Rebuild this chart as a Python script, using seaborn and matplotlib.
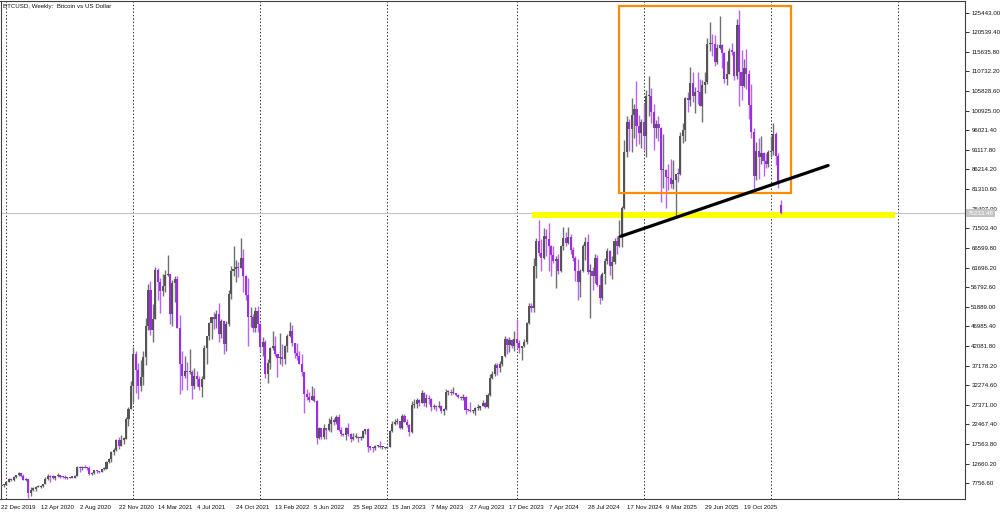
import numpy as np
import pandas as pd
import seaborn as sns
import matplotlib.pyplot as plt
from matplotlib.patches import Rectangle

# BTCUSD weekly candles, thousands of USD, first bar = week of 22 Dec 2019
opens = [
    7.15, 7.32, 7.35, 8.18, 8.92, 8.60, 9.33, 9.80, 10.37, 9.68,
    8.55, 8.90, 5.37, 6.19, 6.25, 6.78, 6.90, 7.14, 7.55, 8.90,
    9.55, 9.38, 9.18, 9.65, 9.65, 9.45, 9.35, 9.00, 9.08, 9.25,
    9.16, 9.62, 11.80, 11.60, 11.85, 11.65, 11.50, 10.05, 10.45, 11.08,
    10.75, 10.55, 11.30, 11.35, 13.10, 13.80, 15.50, 16.05, 18.68, 17.15,
    18.70, 18.80, 23.80, 26.40, 32.20, 40.20, 36.00, 32.10, 34.30, 39.25,
    47.20, 56.00, 46.20, 48.90, 61.20, 58.10, 55.90, 57.10, 59.80, 60.00,
    50.00, 57.80, 58.90, 46.70, 37.50, 34.60, 35.80, 35.50, 35.50, 32.20,
    34.60, 33.80, 31.80, 33.80, 41.50, 44.60, 47.80, 49.30, 48.90, 50.00,
    45.20, 48.30, 42.70, 47.70, 55.00, 60.90, 61.30, 61.80, 61.50, 64.20,
    59.70, 54.80, 49.40, 49.40, 46.70, 50.80, 47.70, 41.90, 43.10, 35.10,
    37.90, 41.60, 42.20, 40.10, 39.10, 39.40, 38.80, 42.20, 44.50, 45.80,
    42.80, 40.40, 39.70, 37.70, 35.50, 30.10, 29.40, 28.60, 29.70, 28.40,
    19.00, 21.50, 19.30, 21.60, 21.20, 22.60, 23.60, 23.20, 24.40, 21.10,
    20.00, 19.80, 21.60, 20.10, 18.90, 19.30, 19.40, 19.10, 19.20, 20.80,
    21.30, 16.80, 16.70, 16.50, 17.00, 17.10, 16.80, 16.80, 16.50, 16.90,
    20.90, 22.70, 23.00, 23.30, 21.60, 24.60, 23.20, 22.40, 20.60, 27.40,
    27.50, 28.50, 27.90, 30.30, 27.80, 29.20, 28.90, 26.80, 26.90, 26.80,
    27.10, 25.80, 26.30, 30.60, 30.60, 30.30, 30.30, 29.90, 29.30, 29.00,
    29.40, 26.10, 26.00, 25.80, 25.90, 26.60, 26.60, 27.00, 27.90, 26.80,
    29.90, 34.10, 35.00, 37.30, 36.60, 37.70, 39.50, 43.80, 42.30, 43.70,
    42.10, 43.90, 42.80, 41.60, 42.10, 43.00, 47.80, 52.10, 51.50, 62.00,
    68.30, 65.30, 64.00, 69.70, 68.90, 67.20, 64.90, 63.40, 63.90, 60.80,
    67.00, 69.20, 67.80, 69.30, 66.00, 64.20, 60.90, 58.20, 60.80, 67.10,
    68.00, 60.70, 60.90, 59.50, 64.20, 57.30, 54.00, 60.00, 63.30, 65.80,
    62.10, 63.20, 68.40, 67.00, 69.50, 76.50, 90.50, 98.00, 96.40, 99.80,
    101.40, 97.20, 95.30, 98.20, 94.50, 104.50, 104.70, 100.60, 96.50, 97.50,
    96.60, 86.10, 86.10, 84.30, 84.00, 82.50, 83.50, 85.20, 85.10, 94.60,
    96.00, 104.00, 103.50, 107.90, 104.60, 105.60, 105.50, 102.20, 107.30, 108.20,
    117.50, 117.80, 117.60, 113.00, 116.50, 117.40, 115.40, 108.80, 110.20, 115.90,
    115.70, 109.70, 122.30, 110.60, 107.00, 111.50, 110.00, 102.30, 95.50, 84.70,
    90.80, 89.30, 90.30, 88.30, 87.70, 90.50, 90.80, 95.00, 89.50, 77.40,
]
highs = [
    7.70, 7.65, 8.45, 9.18, 8.98, 9.57, 9.85, 10.50, 10.40, 10.00,
    9.18, 8.90, 6.90, 6.95, 7.05, 7.45, 7.30, 7.70, 9.45, 10.05,
    9.95, 9.90, 9.70, 10.40, 9.95, 9.60, 9.80, 9.30, 9.45, 9.32,
    9.75, 12.00, 12.10, 12.10, 12.45, 11.75, 12.10, 10.60, 11.15, 11.10,
    10.95, 11.45, 11.75, 13.25, 14.10, 15.95, 16.50, 18.80, 19.45, 19.90,
    19.40, 24.30, 26.80, 33.30, 41.90, 40.80, 37.85, 38.50, 40.95, 49.00,
    57.50, 58.30, 52.60, 61.80, 61.60, 59.00, 60.10, 61.20, 64.80, 60.00,
    58.50, 59.50, 59.50, 49.80, 40.80, 39.50, 38.00, 41.30, 36.00, 36.60,
    35.90, 34.60, 34.50, 42.30, 44.70, 48.10, 49.40, 50.50, 51.00, 52.90,
    48.80, 48.30, 48.40, 56.00, 62.00, 67.00, 63.70, 63.20, 69.00, 66.30,
    59.90, 59.00, 51.90, 50.00, 51.90, 52.00, 47.90, 44.40, 43.50, 38.90,
    41.90, 45.80, 44.70, 40.20, 45.40, 42.50, 42.30, 45.10, 48.20, 47.40,
    42.90, 42.90, 40.80, 40.00, 35.60, 31.30, 30.60, 32.20, 31.70, 28.50,
    21.80, 21.70, 22.50, 21.60, 24.20, 24.60, 24.20, 24.90, 25.20, 21.80,
    20.40, 21.80, 22.80, 20.40, 20.40, 20.40, 19.60, 19.70, 21.00, 21.40,
    21.50, 17.20, 16.80, 17.40, 17.40, 18.40, 17.00, 16.90, 17.00, 21.20,
    23.30, 23.80, 24.20, 23.40, 25.20, 25.10, 23.90, 22.60, 28.40, 28.80,
    29.10, 28.90, 31.00, 30.50, 30.00, 29.80, 29.10, 27.60, 27.30, 28.40,
    27.40, 26.50, 31.40, 31.00, 31.40, 31.80, 30.40, 30.00, 29.70, 30.20,
    29.70, 26.30, 28.10, 26.10, 26.80, 27.50, 27.20, 28.60, 28.00, 30.30,
    35.20, 35.90, 37.90, 37.90, 38.40, 39.70, 44.50, 44.00, 44.30, 43.90,
    45.90, 48.90, 43.60, 42.20, 43.80, 48.20, 52.80, 52.90, 64.00, 69.00,
    73.70, 68.90, 71.60, 71.40, 72.80, 67.30, 67.20, 64.70, 65.00, 67.40,
    71.90, 70.60, 71.90, 70.20, 66.90, 64.50, 63.80, 61.40, 67.50, 69.40,
    70.00, 62.70, 61.80, 65.00, 64.90, 59.80, 60.60, 64.10, 66.50, 66.00,
    64.50, 69.00, 69.50, 73.60, 77.20, 93.50, 99.60, 98.90, 104.00, 102.50,
    108.30, 99.90, 98.90, 102.70, 106.00, 109.60, 106.50, 102.50, 98.50, 99.50,
    96.80, 95.00, 86.40, 87.50, 88.80, 88.50, 84.70, 86.50, 95.70, 97.80,
    104.30, 105.70, 111.90, 110.50, 106.80, 110.50, 108.90, 108.50, 110.50, 119.00,
    123.20, 120.20, 119.80, 117.70, 124.50, 117.60, 115.60, 113.40, 116.70, 117.90,
    115.80, 123.90, 126.20, 116.00, 113.90, 116.40, 111.20, 107.50, 96.70, 93.00,
    94.10, 94.50, 90.50, 90.30, 91.00, 94.70, 97.90, 95.60, 90.40, 78.70,
]
lows = [
    7.05, 6.87, 7.35, 8.05, 8.27, 8.30, 9.10, 9.70, 9.30, 8.47,
    8.40, 4.20, 4.55, 5.75, 5.88, 6.75, 6.55, 6.80, 7.55, 8.65,
    8.10, 8.85, 8.65, 9.30, 9.10, 9.20, 8.90, 8.95, 9.05, 9.05,
    9.13, 9.62, 10.70, 11.20, 11.55, 11.10, 9.90, 9.85, 10.20, 10.35,
    10.40, 10.50, 11.20, 11.35, 12.95, 13.20, 14.85, 15.80, 16.30, 17.10,
    17.60, 18.80, 22.00, 26.40, 28.20, 30.40, 28.80, 30.85, 32.30, 37.40,
    46.20, 44.90, 43.00, 48.90, 53.50, 50.30, 54.50, 55.50, 59.50, 47.50,
    47.00, 53.00, 46.60, 30.00, 31.20, 34.10, 31.00, 35.00, 28.80, 31.30,
    32.10, 31.10, 29.30, 33.80, 37.50, 43.50, 43.90, 46.40, 46.60, 43.00,
    44.20, 40.00, 40.80, 47.20, 53.90, 59.60, 58.00, 59.40, 61.50, 55.60,
    53.50, 42.00, 46.80, 45.50, 45.60, 45.70, 40.60, 39.60, 34.00, 32.90,
    36.30, 41.10, 39.50, 34.30, 37.50, 37.20, 37.60, 40.50, 44.30, 42.10,
    39.20, 38.60, 37.60, 34.70, 25.40, 28.70, 28.00, 28.60, 28.20, 17.60,
    18.80, 18.80, 18.80, 18.90, 20.80, 20.70, 22.40, 22.70, 20.80, 19.60,
    19.50, 18.60, 19.60, 18.20, 18.50, 19.00, 18.20, 18.70, 19.20, 20.10,
    15.60, 16.20, 15.50, 16.00, 16.80, 16.60, 16.30, 16.40, 16.50, 16.90,
    20.50, 22.30, 22.60, 21.40, 21.40, 23.10, 21.90, 19.60, 20.40, 26.60,
    26.50, 27.20, 27.90, 27.20, 26.90, 27.70, 25.80, 26.30, 25.90, 26.60,
    25.40, 24.80, 26.20, 29.90, 29.80, 30.00, 29.50, 29.00, 28.60, 28.70,
    25.20, 25.80, 25.70, 25.40, 24.90, 26.20, 26.00, 27.00, 26.60, 26.60,
    29.70, 33.90, 34.60, 34.80, 35.60, 37.00, 39.40, 40.20, 40.60, 41.50,
    40.80, 41.50, 40.30, 38.50, 41.80, 42.60, 47.60, 50.60, 50.60, 59.00,
    64.50, 60.80, 63.80, 64.50, 60.80, 59.60, 62.80, 56.50, 60.20, 60.60,
    66.10, 67.10, 67.50, 65.10, 63.40, 58.40, 53.50, 54.30, 60.70, 63.50,
    60.00, 49.00, 56.10, 57.90, 57.20, 52.50, 53.70, 57.50, 62.60, 59.80,
    58.90, 62.70, 65.10, 66.80, 66.80, 76.30, 89.40, 90.80, 90.50, 94.20,
    92.20, 92.50, 91.50, 91.20, 89.30, 99.50, 97.80, 91.20, 94.10, 93.40,
    78.20, 81.50, 76.60, 81.20, 81.60, 81.30, 74.60, 83.10, 84.90, 92.90,
    93.40, 100.70, 102.10, 103.10, 100.40, 102.70, 102.00, 98.20, 105.30, 107.50,
    115.80, 114.70, 112.00, 112.70, 116.40, 111.70, 107.80, 107.30, 110.00, 114.80,
    108.60, 108.80, 102.00, 103.50, 106.80, 106.30, 98.90, 94.00, 80.50, 83.70,
    83.90, 87.60, 84.50, 86.60, 86.80, 89.30, 89.80, 87.30, 81.50, 75.10,
]
closes = [
    7.32, 7.35, 8.18, 8.92, 8.60, 9.33, 9.80, 10.37, 9.68, 8.55,
    8.90, 5.37, 6.19, 6.25, 6.78, 6.90, 7.14, 7.55, 8.90, 9.55,
    9.38, 9.18, 9.65, 9.65, 9.45, 9.35, 9.00, 9.08, 9.25, 9.16,
    9.62, 11.80, 11.60, 11.85, 11.65, 11.50, 10.05, 10.45, 11.08, 10.75,
    10.55, 11.30, 11.35, 13.10, 13.80, 15.50, 16.05, 18.68, 17.15, 18.70,
    18.80, 23.80, 26.40, 32.20, 40.20, 36.00, 32.10, 34.30, 39.25, 47.20,
    56.00, 46.20, 48.90, 61.20, 58.10, 55.90, 57.10, 59.80, 60.00, 50.00,
    57.80, 58.90, 46.70, 37.50, 34.60, 35.80, 35.50, 35.50, 32.20, 34.60,
    33.80, 31.80, 33.80, 41.50, 44.60, 47.80, 49.30, 48.90, 50.00, 45.20,
    48.30, 42.70, 47.70, 55.00, 60.90, 61.30, 61.80, 61.50, 64.20, 59.70,
    54.80, 49.40, 49.40, 46.70, 50.80, 47.70, 41.90, 43.10, 35.10, 37.90,
    41.60, 42.20, 40.10, 39.10, 39.40, 38.80, 42.20, 44.50, 45.80, 42.80,
    40.40, 39.70, 37.70, 35.50, 30.10, 29.40, 28.60, 29.70, 28.40, 19.00,
    21.50, 19.30, 21.60, 21.20, 22.60, 23.60, 23.20, 24.40, 21.10, 20.00,
    19.80, 21.60, 20.10, 18.90, 19.30, 19.40, 19.10, 19.20, 20.80, 21.30,
    16.80, 16.70, 16.50, 17.00, 17.10, 16.80, 16.80, 16.50, 16.90, 20.90,
    22.70, 23.00, 23.30, 21.60, 24.60, 23.20, 22.40, 20.60, 27.40, 27.50,
    28.50, 27.90, 30.30, 27.80, 29.20, 28.90, 26.80, 26.90, 26.80, 27.10,
    25.80, 26.30, 30.60, 30.60, 30.30, 30.30, 29.90, 29.30, 29.00, 29.40,
    26.10, 26.00, 25.80, 25.90, 26.60, 26.60, 27.00, 27.90, 26.80, 29.90,
    34.10, 35.00, 37.30, 36.60, 37.70, 39.50, 43.80, 42.30, 43.70, 42.10,
    43.90, 42.80, 41.60, 42.10, 43.00, 47.80, 52.10, 51.50, 62.00, 68.30,
    65.30, 64.00, 69.70, 68.90, 67.20, 64.90, 63.40, 63.90, 60.80, 67.00,
    69.20, 67.80, 69.30, 66.00, 64.20, 60.90, 58.20, 60.80, 67.10, 68.00,
    60.70, 60.90, 59.50, 64.20, 57.30, 54.00, 60.00, 63.30, 65.80, 62.10,
    63.20, 68.40, 67.00, 69.50, 76.50, 90.50, 98.00, 96.40, 99.80, 101.40,
    97.20, 95.30, 98.20, 94.50, 104.50, 104.70, 100.60, 96.50, 97.50, 96.60,
    86.10, 86.10, 84.30, 84.00, 82.50, 83.50, 85.20, 85.10, 94.60, 96.00,
    104.00, 103.50, 107.90, 104.60, 105.60, 105.50, 102.20, 107.30, 108.20, 117.50,
    117.80, 117.60, 113.00, 116.50, 117.40, 115.40, 108.80, 110.20, 115.90, 115.70,
    109.70, 122.30, 110.60, 107.00, 111.50, 110.00, 102.30, 95.50, 84.70, 90.80,
    89.30, 90.30, 88.30, 87.70, 90.50, 90.80, 95.00, 89.50, 83.30, 75.23,
]

last_price = 75233.48
price_ticks = [7756.60, 12660.20, 17563.80, 22467.40, 27371.00, 32274.60, 37178.20,
               42081.80, 46985.40, 51889.00, 56792.60, 61696.20, 66599.80, 71503.40,
               76407.00, 81310.60, 86214.20, 91117.80, 96021.40, 100925.00, 105828.60,
               110732.20, 115635.80, 120539.40, 125443.00]

# drawings on the chart (dates, thousands of USD)
box_dates = ['2024-10-27', '2026-03-02']
box_prices = [80.4, 127.1]
zone_dates = ['2024-02-19', '2026-12-26']
zone_prices = [74.0, 75.6]
trend_dates = ['2024-10-31', '2026-06-17']
trend_prices = [69.5, 87.2]

start = pd.Timestamp('2019-12-22')


def week_pos(d):
    return (pd.Timestamp(d) - start).days / 7


df = pd.DataFrame({'open': opens, 'high': highs, 'low': lows, 'close': closes}) * 1000
df['date'] = pd.date_range(start, periods=len(df), freq='7D')
df['x'] = [week_pos(d) for d in df['date']]

sns.set_theme(style='white')
plt.rcParams['font.family'] = ['Liberation Sans', 'DejaVu Sans']
fs = 4.4

fig = plt.figure(figsize=(10, 5.13), dpi=100)
ax = fig.add_axes([0.0005, 0.0273, 0.9645, 0.9717])
ax.set_xlim(-0.4, 394.5)
ax.set_ylim(3830, 128450)

# year separators
weeks = pd.date_range(start, periods=396, freq='7D')
year_starts = [week_pos(d) for d, prev in zip(weeks[1:], weeks[:-1]) if d.year != prev.year]
for xp in year_starts:
    ax.axvline(xp, color='#333333', lw=0.7, ls=(0, (1.5, 2)), zorder=1)

ax.axhline(last_price, color='#c4c4c4', lw=0.8, zorder=1)

z0, z1 = week_pos(zone_dates[0]), week_pos(zone_dates[1])
ax.add_patch(Rectangle((z0, zone_prices[0] * 1000), z1 - z0, (zone_prices[1] - zone_prices[0]) * 1000,
                       facecolor='#ffff00', edgecolor='none', zorder=2))

# candles
up = df['close'] >= df['open']
cols = np.where(up, '#555555', '#9a2fe0')
wick_cols = np.where(up, '#707070', '#b565f0')
ax.vlines(df['x'], df['low'], df['high'], colors=wick_cols, lw=1.0, zorder=3)
body = (df['close'] - df['open']).abs().clip(lower=300)
ax.bar(df['x'], body, bottom=df[['open', 'close']].min(axis=1), width=0.85,
       color=cols, linewidth=0, zorder=4)

b0, b1 = week_pos(box_dates[0]), week_pos(box_dates[1])
ax.add_patch(Rectangle((b0, box_prices[0] * 1000), b1 - b0, (box_prices[1] - box_prices[0]) * 1000,
                       fill=False, edgecolor='#ff8c00', lw=1.6, zorder=5))

sns.lineplot(x=[week_pos(d) for d in trend_dates], y=[p * 1000 for p in trend_prices],
             color='black', lw=2.3, ax=ax, zorder=6)

# axes text
tick_idx = list(range(0, 305, 16))
ax.set_xticks(tick_idx)
ax.set_xticklabels([f"{d.day} {d.strftime('%b %Y')}" for d in df['date'].iloc[tick_idx]],
                   ha='left', fontsize=fs)
ax.yaxis.tick_right()
ax.set_yticks(price_ticks)
ax.set_yticklabels([f"{v:.2f}" for v in price_ticks], fontsize=fs)
ax.tick_params(axis='both', length=3, width=0.6, pad=1.5, colors='#111111', direction='out')
ax.grid(False)
for s in ax.spines.values():
    s.set_color('#404040')
    s.set_linewidth(0.8)

ax.text(1.003, last_price, f"{last_price:.2f}", transform=ax.get_yaxis_transform(),
        va='center', ha='left', fontsize=fs, color='white',
        bbox=dict(boxstyle='square,pad=0.25', fc='#c4c4c4', ec='none'))
ax.text(0.003, 0.993, 'BTCUSD, Weekly:  Bitcoin vs US Dollar', transform=ax.transAxes,
        va='top', ha='left', fontsize=fs, color='#111111')

fig.savefig('out.png', dpi=100)
